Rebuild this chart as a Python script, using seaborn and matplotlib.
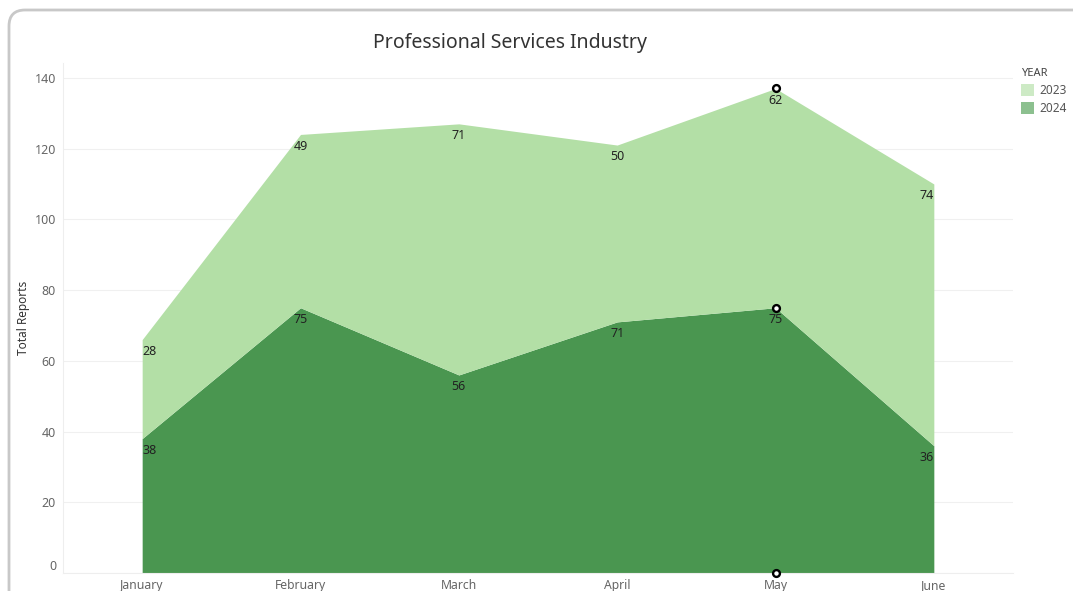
import matplotlib
matplotlib.use("Agg")
import matplotlib.pyplot as plt
from matplotlib.patches import FancyBboxPatch, Patch
import numpy as np
import pandas as pd
import seaborn as sns

# Monthly report counts per year
months = ["January", "February", "March", "April", "May", "June"]
reports_2024 = [38, 75, 56, 71, 75, 36]
reports_2023 = [28, 49, 71, 50, 62, 74]
y_ticks = [0, 20, 40, 60, 80, 100, 120, 140]

light_green = "#b3dfa6"
dark_green = "#4a9650"

sns.set_theme(style="white")
plt.rcParams["font.family"] = ["Noto Sans", "DejaVu Sans"]

fig = plt.figure(figsize=(10.73, 5.91), dpi=100)
ax = fig.add_axes([63 / 1073, 1 - 573 / 591, 950 / 1073, 510 / 591])

# Rounded panel border
fig.patches.append(FancyBboxPatch((9 / 1073, -0.1), 1.2, 1 - 10 / 591 + 0.1,
                                  boxstyle="round,pad=0,rounding_size=0.015",
                                  transform=fig.transFigure, fill=False,
                                  edgecolor="#c8c8c8", linewidth=2.0,
                                  mutation_aspect=1073 / 591))

df = pd.DataFrame({"month": months, "y2024": reports_2024, "y2023": reports_2023})
df["total"] = df["y2024"] + df["y2023"]
x = np.arange(len(months))

ax.stackplot(x, df["y2024"], df["y2023"], colors=[dark_green, light_green],
             linewidth=0, zorder=2)

# Value labels under each series' upper edge
n = len(months)
for i in range(n):
    ha = "left" if i == 0 else ("right" if i == n - 1 else "center")
    for val, top in ((df["y2023"][i], df["total"][i]), (df["y2024"][i], df["y2024"][i])):
        ax.annotate(f"{val}", (x[i], top), xytext=(0, -8.5), textcoords="offset points",
                    ha=ha, va="center", fontsize=9, color="#222222", zorder=4)

# Highlighted points for May
may = months.index("May")
mk = pd.DataFrame({"x": [may] * 3,
                   "y": [df["total"][may], df["y2024"][may], 0]})
sns.scatterplot(data=mk, x="x", y="y", ax=ax, s=24, marker="o",
                facecolor="white", edgecolor="black", linewidth=1.7,
                zorder=5, clip_on=False, legend=False)

ax.set_xlim(-0.5, n - 0.5)
ax.set_ylim(0, 144.2)
ax.set_xticks(x)
ax.set_xticklabels(months)
ax.set_xticks(np.arange(-0.5, n, 1.0), minor=True)
ax.set_yticks(y_ticks)
ax.set_yticklabels([str(t) for t in y_ticks])
ax.tick_params(axis="x", which="major", length=0, pad=4.5, labelsize=8.8, labelcolor="#666666")
ax.tick_params(axis="x", which="minor", length=4, color="#eeeeee", width=0.8)
ax.tick_params(axis="y", length=0, pad=5, labelsize=9, labelcolor="#666666")
for lbl in ax.get_yticklabels():
    if lbl.get_text() == "0":
        lbl.set_verticalalignment("bottom")

ax.grid(axis="y", color="#f0f0f0", linewidth=0.8, zorder=0)
for side in ("top", "right"):
    ax.spines[side].set_visible(False)
for side in ("left", "bottom"):
    ax.spines[side].set_color("#eeeeee")
    ax.spines[side].set_linewidth(0.8)

ax.set_xlabel("")
ax.set_ylabel("Total Reports", fontsize=8.5, color="#333333")
ax.yaxis.set_label_coords((30 - 63) / 950, 0.5)
fig.text(510 / 1073, 1 - 43 / 591, "Professional Services Industry",
         ha="center", va="center", fontsize=14, color="#333333")

handles = [Patch(facecolor="#cdeac5", edgecolor="none", label="2023"),
           Patch(facecolor="#8cc08f", edgecolor="none", label="2024")]
leg = fig.legend(handles=handles, title="YEAR", loc="upper left",
                 bbox_to_anchor=(1016 / 1073, 1 - 63 / 591), frameon=False,
                 fontsize=8.5, title_fontsize=8, handlelength=1.1, handleheight=1.2,
                 handletextpad=0.5, labelspacing=0.45, borderaxespad=0,
                 alignment="left")
leg.get_title().set_fontweight("bold")
leg.get_title().set_color("#444444")
for t in leg.get_texts():
    t.set_color("#555555")

fig.savefig("out.png", dpi=100)
